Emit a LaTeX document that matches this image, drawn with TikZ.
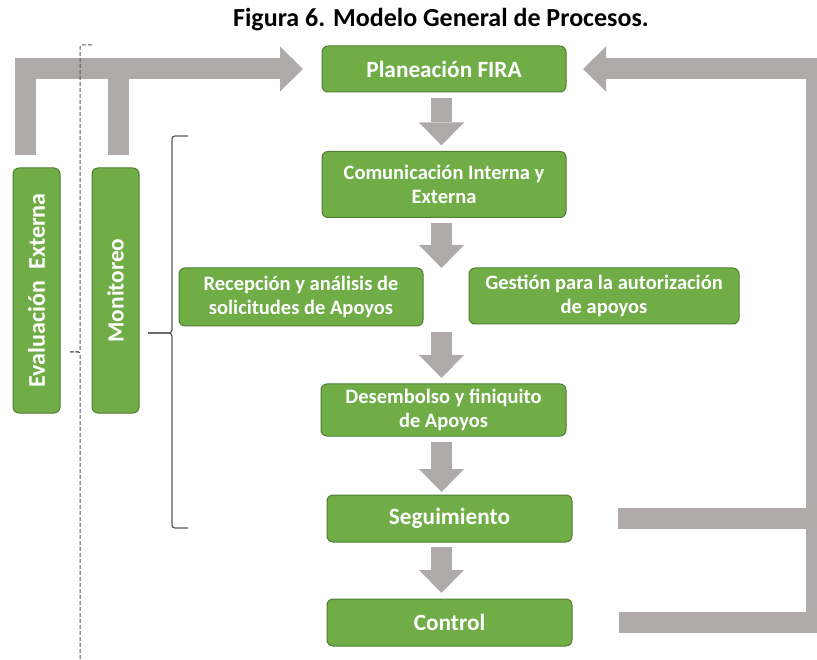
\documentclass[tikz,border=0pt]{standalone}
\usepackage{fontspec}
\setmainfont{Carlito}
\usepackage{tikz}
\usetikzlibrary{arrows.meta,positioning,calc}
\definecolor{firagreen}{HTML}{70AD47}
\definecolor{firagreendk}{HTML}{507E32}
\definecolor{firagrey}{HTML}{AEAAAA}
\definecolor{bracegrey}{HTML}{595959}

\begin{document}
\begin{tikzpicture}[x=1pt,y=-1pt,every node/.style={outer sep=0pt}]
\tikzstyle{proc}=[draw=firagreendk,fill=firagreen,line width=1pt,rounded corners=6pt,
text=white,align=center,inner sep=2pt,font=\fontsize{20.5}{24.5}\selectfont\bfseries]
\tikzstyle{bigproc}=[proc,font=\fontsize{23.3}{26}\selectfont\bfseries]
\tikzstyle{flow}=[draw=firagrey,line width=21pt,line join=miter,
-{Triangle[width=45pt,length=23pt,line width=0pt]}]
\tikzstyle{bar}=[draw=firagrey,line width=21pt]
\tikzstyle{bracket}=[draw=bracegrey,line width=1.2pt,rounded corners=3pt]
\tikzstyle{dashbracket}=[draw=bracegrey,line width=1pt,rounded corners=2pt,
dash pattern=on 4pt off 2pt]
\useasboundingbox (0,0) rectangle (817,660);
%
\node (title) at (441,20) {\fontsize{26}{28}\selectfont\bfseries Figura 6. Modelo General de Procesos.};
%
\node (plan) [bigproc,minimum width=244pt,minimum height=46pt] at (444,69) {Planeación FIRA};
\node (comu) [proc,minimum width=244pt,minimum height=66pt] at (444,184.5) {Comunicación Interna y\\Externa};
\node (recep) [proc,minimum width=244pt,minimum height=58pt] at (301,297) {Recepción y análisis de\\solicitudes de Apoyos};
\node (gest) [proc,minimum width=270pt,minimum height=56pt] at (604,296) {Gestión para la autorización\\de apoyos};
\node (desem) [proc,minimum width=245pt,minimum height=52pt] at (443.5,410) {Desembolso y finiquito\\de Apoyos};
\node (segui) [bigproc,minimum width=245pt,minimum height=47pt] at (449.5,518.5) {Seguimiento};
\node (ctrl) [bigproc,minimum width=245pt,minimum height=47pt] at (449.5,622.5) {Control};
\node (eval) [bigproc,rotate=90,minimum width=245pt,minimum height=47pt,
font=\fontsize{24}{26}\selectfont\bfseries] at (36.5,290.5) {Evaluación\hspace{6pt} Externa};
\node (moni) [bigproc,rotate=90,minimum width=245pt,minimum height=47pt] at (115.5,290.5) {Monitoreo};
%
\coordinate (ax) at (441.5,0);
\draw [flow] ($(plan.south -| ax)+(0,6)$) -- ($(comu.north -| ax)+(0,-6)$);
\draw [flow] ($(comu.south -| ax)+(0,6)$) -- (recep.north -| ax);
\draw [flow] ($(recep.south -| ax)+(0,6)$) -- ($(desem.north -| ax)+(0,-6)$);
\draw [flow] ($(desem.south -| ax)+(0,6)$) -- ($(segui.north -| ax)+(0,-3)$);
\draw [flow] ($(segui.south -| ax)+(0,5)$) -- ($(ctrl.north -| ax)+(0,-6)$);
%
\coordinate (evtop) at ($(eval.east)+(-11.5,-13)$);
\coordinate (motop) at ($(moni.east)+(2.5,-13)$);
\draw [flow] (evtop) -- (evtop |- plan.west) -- ($(plan.west)+(-19,0)$);
\draw [bar] (motop) -- (motop |- plan.west);
%
\coordinate (rgt) at (816,0);
\draw [flow] ($(ctrl.east)+(47,0)$) -- (ctrl.east -| rgt) -- (plan.east -| rgt) -- ($(plan.east)+(17,0)$);
\draw [bar] ($(segui.east)+(46,0)$) -- (segui.east -| rgt);
%
\draw [bracket] (188,136) -- (172,136) -- (172,333) -- (148,333);
\draw [bracket] (148,333) -- (172,333) -- (172,528) -- (188,528);
\draw [dashbracket] (92,45) -- (80,45) -- (80,352) -- (70,352);
\draw [dashbracket] (70,352) -- (80,352) -- (80,668);
\end{tikzpicture}
\end{document}
